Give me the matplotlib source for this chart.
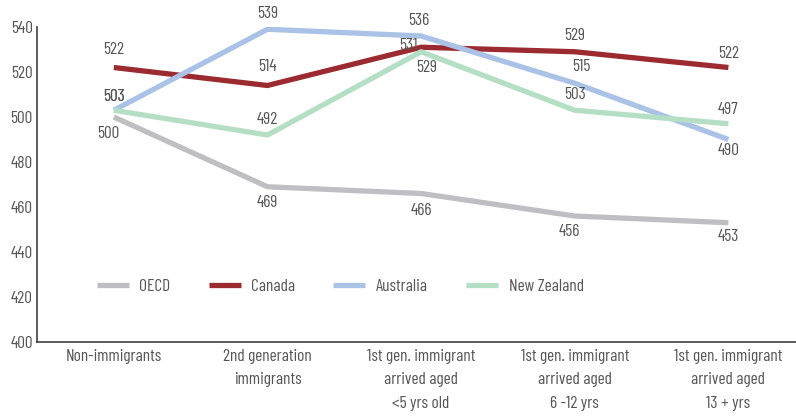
import matplotlib
matplotlib.use("Agg")
import matplotlib.pyplot as plt

categories = ["Non-immigrants", "2nd generation\nimmigrants",
              "1st gen. immigrant\narrived aged\n<5 yrs old",
              "1st gen. immigrant\narrived aged\n6 -12 yrs",
              "1st gen. immigrant\narrived aged\n13 + yrs"]
series_names = ["OECD", "Canada", "Australia", "New Zealand"]
oecd = [500, 469, 466, 456, 453]
canada = [522, 514, 531, 529, 522]
australia = [503, 539, 536, 515, 490]
new_zealand = [503, 492, 529, 503, 497]
yticks = [400, 420, 440, 460, 480, 500, 520, 540]

colors = ["#bfbfc3", "#9c2a31", "#a9c2e5", "#b4dfc4"]
offsets = [
    [(-4, -12), (0, -11), (0, -12), (-4, -11), (0, -10)],
    [(0, 13), (0, 14), (-9, 1), (0, 12), (0, 10)],
    [(0, 10), (0, 11), (-2, 11), (5, 12), (0, -8)],
    [(0, 10), (0, 11), (4, -11), (0, 11), (0, 10)],
]

plt.rcParams['font.family'] = ['Barlow Condensed', 'DejaVu Sans']
plt.rcParams['font.weight'] = 'normal'
fs = 12.5
tc = '#555555'

fig = plt.figure(figsize=(7.96, 4.16), dpi=100)
ax = fig.add_axes([37/796, 74/416, (796-37)/796, 315/416])

x = list(range(len(categories)))
data = [oecd, canada, australia, new_zealand]
for name, vals, c, offs in zip(series_names, data, colors, offsets):
    ax.plot(x, vals, color=c, lw=3.8, label=name, solid_capstyle='butt')
    for xi, v, o in zip(x, vals, offs):
        ax.annotate(str(v), (xi, v), xytext=o, textcoords='offset points',
                    ha='center', va='center', fontsize=fs, color=tc)

ax.set_xlim(-0.5, 4.44)
ax.set_ylim(400, 540)
ax.set_yticks(yticks)
ax.set_xticks(x)
ax.set_xticklabels(categories, fontsize=fs, color=tc, linespacing=1.7)
ax.tick_params(axis='both', length=0, labelsize=fs, labelcolor=tc)
ax.tick_params(axis='x', pad=5)
ax.tick_params(axis='y', pad=3)
for s in ['top', 'right']:
    ax.spines[s].set_visible(False)
for s in ['left', 'bottom']:
    ax.spines[s].set_color('#404040')
    ax.spines[s].set_linewidth(1.2)

ax.legend(loc='center left', bbox_to_anchor=(0.058, 0.176), ncol=4, frameon=False,
          fontsize=fs, handlelength=1.85, handletextpad=0.6, columnspacing=2.2,
          labelcolor=tc)

fig.savefig("out.png", dpi=100)
